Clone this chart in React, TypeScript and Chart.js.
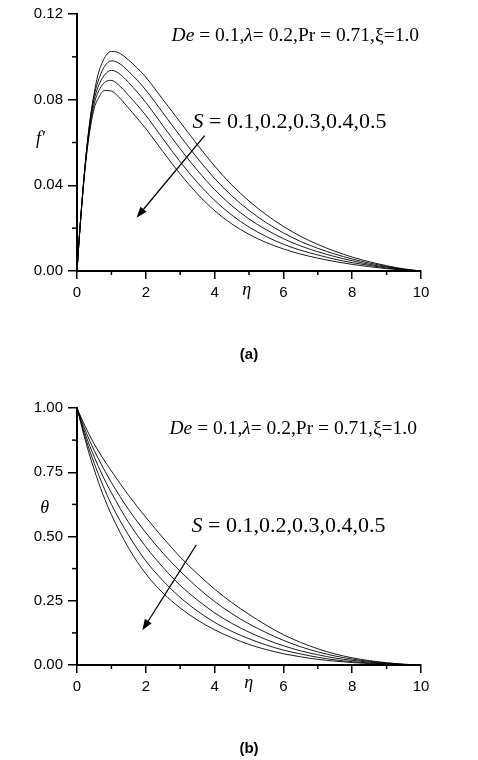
import React, { useEffect, useRef } from "react";
import { Chart, registerables } from "chart.js";

Chart.register(...registerables);

// ---------- data ----------
const ETA_F = [0, 0.05, 0.1, 0.2, 0.3, 0.4, 0.5, 0.6, 0.8, 1.0, 1.2, 1.5, 2.0, 2.5, 3.0, 3.5, 4.0, 4.5, 5.0, 5.5, 6.0, 6.5, 7.0, 7.5, 8.0, 8.5, 9.0, 9.5, 10];
const F_S01 = [0, 0.012, 0.023, 0.043, 0.060, 0.073, 0.083, 0.091, 0.0995, 0.1025, 0.1020, 0.0985, 0.0905, 0.0800, 0.0695, 0.0590, 0.0490, 0.0402, 0.0327, 0.0263, 0.0208, 0.0162, 0.0124, 0.0092, 0.0065, 0.0043, 0.0025, 0.0010, 0];
const F_S02 = [0, 0.012, 0.023, 0.043, 0.0595, 0.0725, 0.082, 0.088, 0.0955, 0.0981, 0.0972, 0.0932, 0.0845, 0.0738, 0.0630, 0.0527, 0.0432, 0.0351, 0.0283, 0.0226, 0.0178, 0.0138, 0.0106, 0.0079, 0.0056, 0.0037, 0.0021, 0.0008, 0];
const F_S03 = [0, 0.012, 0.023, 0.0428, 0.059, 0.0715, 0.080, 0.0855, 0.0915, 0.0937, 0.0925, 0.0880, 0.0787, 0.0678, 0.0570, 0.0470, 0.0380, 0.0305, 0.0243, 0.0193, 0.0151, 0.0117, 0.0090, 0.0067, 0.0048, 0.0031, 0.0018, 0.0007, 0];
const F_S04 = [0, 0.012, 0.023, 0.0425, 0.058, 0.0698, 0.078, 0.083, 0.0880, 0.0890, 0.0870, 0.0820, 0.0727, 0.0617, 0.0510, 0.0413, 0.0330, 0.0261, 0.0205, 0.0161, 0.0125, 0.0097, 0.0075, 0.0055, 0.0039, 0.0026, 0.0014, 0.0005, 0];
const F_S05 = [0, 0.012, 0.023, 0.042, 0.057, 0.068, 0.076, 0.080, 0.0843, 0.0840, 0.0815, 0.0760, 0.0665, 0.0557, 0.0453, 0.0360, 0.0282, 0.0220, 0.0171, 0.0133, 0.0103, 0.0079, 0.0060, 0.0044, 0.0031, 0.0020, 0.0011, 0.0004, 0];

const ETA_T = [0, 0.25, 0.5, 0.75, 1.0, 1.5, 2.0, 2.5, 3.0, 3.5, 4.0, 4.5, 5.0, 5.5, 6.0, 6.5, 7.0, 7.5, 8.0, 8.5, 9.0, 9.5, 10];
const T_S01 = [1, 0.925, 0.86, 0.805, 0.755, 0.66, 0.575, 0.495, 0.42, 0.355, 0.295, 0.243, 0.197, 0.155, 0.118, 0.088, 0.063, 0.043, 0.028, 0.017, 0.009, 0.003, 0];
const T_S02 = [1, 0.91, 0.835, 0.77, 0.71, 0.605, 0.515, 0.435, 0.365, 0.302, 0.247, 0.20, 0.16, 0.126, 0.096, 0.071, 0.051, 0.035, 0.023, 0.014, 0.007, 0.0025, 0];
const T_S03 = [1, 0.895, 0.81, 0.735, 0.67, 0.555, 0.46, 0.38, 0.31, 0.253, 0.203, 0.162, 0.128, 0.099, 0.075, 0.055, 0.040, 0.027, 0.018, 0.011, 0.0055, 0.002, 0];
const T_S04 = [1, 0.882, 0.785, 0.70, 0.625, 0.505, 0.405, 0.328, 0.263, 0.21, 0.166, 0.131, 0.102, 0.078, 0.058, 0.043, 0.030, 0.020, 0.013, 0.0078, 0.004, 0.0015, 0];
const T_S05 = [1, 0.87, 0.76, 0.665, 0.585, 0.455, 0.355, 0.28, 0.222, 0.175, 0.137, 0.106, 0.08, 0.06, 0.044, 0.032, 0.022, 0.015, 0.0095, 0.0055, 0.0027, 0.001, 0];

const S_LABELS = ["S = 0.1", "S = 0.2", "S = 0.3", "S = 0.4", "S = 0.5"];

const X_MAJOR_STEP = 2;
const X_MINOR = [1, 3, 5, 7, 9];
const F_RANGE = [0, 0.12];
const F_STEP = 0.04;
const F_MINOR = [0.02, 0.06, 0.10];
const T_RANGE = [0, 1];
const T_STEP = 0.25;
const T_MINOR = [0.125, 0.375, 0.625, 0.875];

// text segments: [text, italic]
const PARAM_TEXT: [string, boolean][] = [["De", true], [" = 0.1,", false], ["λ", true], ["= 0.2,Pr = 0.71,ξ=1.0", false]];
const S_TEXT: [string, boolean][] = [["S", true], [" = 0.1,0.2,0.3,0.4,0.5", false]];

type PanelCfg = {
  eta: number[];
  series: number[][];
  range: number[];
  step: number;
  yMinor: number[];
  yLabel: string;
  yLabelAt: number[];
  xLabelAt: number[];
  paramAt: number[];
  sAt: number[];
  arrow: number[]; // x1,y1,x2,y2 in data coords
  caption: string;
};

const PANEL_A: PanelCfg = {
  eta: ETA_F,
  series: [F_S01, F_S02, F_S03, F_S04, F_S05],
  range: F_RANGE,
  step: F_STEP,
  yMinor: F_MINOR,
  yLabel: "f′",
  yLabelAt: [-1.06, 0.0613],
  xLabelAt: [4.93, -0.009],
  paramAt: [2.75, 0.1073],
  sAt: [3.36, 0.0667],
  arrow: [3.71, 0.0632, 1.73, 0.0249],
  caption: "(a)",
};

const PANEL_B: PanelCfg = {
  eta: ETA_T,
  series: [T_S01, T_S02, T_S03, T_S04, T_S05],
  range: T_RANGE,
  step: T_STEP,
  yMinor: T_MINOR,
  yLabel: "θ",
  yLabelAt: [-0.94, 0.608],
  xLabelAt: [4.99, -0.073],
  paramAt: [2.69, 0.897],
  sAt: [3.33, 0.517],
  arrow: [3.47, 0.468, 1.9, 0.135],
  caption: "(b)",
};

const SERIF = "'Times New Roman', 'Liberation Serif', serif";
const SANS = "Arial, 'Liberation Sans', sans-serif";

function drawSegments(ctx: CanvasRenderingContext2D, segs: [string, boolean][], x: number, y: number, size: number) {
  let cx = x;
  ctx.textBaseline = "alphabetic";
  ctx.textAlign = "left";
  for (const [t, it] of segs) {
    ctx.font = `${it ? "italic " : ""}${size}px ${SERIF}`;
    ctx.fillText(t, cx, y);
    cx += ctx.measureText(t).width;
  }
}

function makeDecor(cfg: PanelCfg) {
  return {
    id: "decor",
    afterDraw(chart: any) {
      const { ctx, chartArea } = chart;
      const xs = chart.scales.x;
      const ys = chart.scales.y;
      const px = (v: number) => xs.getPixelForValue(v);
      const py = (v: number) => ys.getPixelForValue(v);
      ctx.save();
      ctx.strokeStyle = "#000";
      ctx.fillStyle = "#000";
      ctx.lineWidth = 1.5;
      // minor ticks
      for (const v of X_MINOR) {
        const p = px(v);
        ctx.beginPath();
        ctx.moveTo(p, chartArea.bottom);
        ctx.lineTo(p, chartArea.bottom + 4);
        ctx.stroke();
      }
      for (const v of cfg.yMinor) {
        const p = py(v);
        ctx.beginPath();
        ctx.moveTo(chartArea.left - 5, p);
        ctx.lineTo(chartArea.left, p);
        ctx.stroke();
      }
      // annotations
      drawSegments(ctx, PARAM_TEXT, px(cfg.paramAt[0]), py(cfg.paramAt[1]), 19.5);
      drawSegments(ctx, S_TEXT, px(cfg.sAt[0]), py(cfg.sAt[1]), 22);
      // arrow
      const x1 = px(cfg.arrow[0]), y1 = py(cfg.arrow[1]);
      const x2 = px(cfg.arrow[2]), y2 = py(cfg.arrow[3]);
      const ang = Math.atan2(y2 - y1, x2 - x1);
      const hl = 11, hw = 4;
      const bx = x2 - hl * Math.cos(ang), by = y2 - hl * Math.sin(ang);
      ctx.lineWidth = 1.3;
      ctx.beginPath();
      ctx.moveTo(x1, y1);
      ctx.lineTo(bx, by);
      ctx.stroke();
      ctx.beginPath();
      ctx.moveTo(x2, y2);
      ctx.lineTo(bx + hw * Math.sin(ang), by - hw * Math.cos(ang));
      ctx.lineTo(bx - hw * Math.sin(ang), by + hw * Math.cos(ang));
      ctx.closePath();
      ctx.fill();
      // axis labels
      ctx.textAlign = "center";
      ctx.textBaseline = "middle";
      ctx.font = `italic 18px ${SERIF}`;
      ctx.fillText(cfg.yLabel, px(cfg.yLabelAt[0]), py(cfg.yLabelAt[1]));
      ctx.fillText("η", px(cfg.xLabelAt[0]), py(cfg.xLabelAt[1]));
      // caption
      ctx.font = `bold 15px ${SANS}`;
      ctx.fillText(cfg.caption, (chartArea.left + chartArea.right) / 2, chartArea.bottom + 84);
      ctx.restore();
    },
  };
}

function Panel({ cfg, top }: { cfg: PanelCfg; top: number }) {
  const ref = useRef<HTMLCanvasElement>(null);
  useEffect(() => {
    if (!ref.current) return;
    const chart = new Chart(ref.current, {
      type: "line",
      data: {
        datasets: cfg.series.map((s, i) => ({
          label: S_LABELS[i],
          data: s.map((v, j) => ({ x: cfg.eta[j], y: v })),
          borderColor: "#000",
          borderWidth: 0.9,
          pointRadius: 0,
          fill: false,
          cubicInterpolationMode: "monotone" as const,
        })),
      },
      options: {
        animation: false,
        responsive: false,
        devicePixelRatio: 1,
        events: [],
        layout: { padding: { left: 0, top: 11, right: 57, bottom: 64 } },
        plugins: { legend: { display: false }, tooltip: { enabled: false }, title: { display: false } },
        scales: {
          x: {
            type: "linear",
            min: 0,
            max: 10,
            afterFit: (s: any) => { s.height = 30; },
            ticks: {
              stepSize: X_MAJOR_STEP,
              color: "#000",
              padding: 5,
              maxRotation: 0,
              font: { family: SANS, size: 15 },
            },
            grid: { display: true, drawOnChartArea: false, drawTicks: true, tickLength: 8, color: "#000", lineWidth: 1.5 },
            border: { display: true, color: "#000", width: 2 },
          },
          y: {
            type: "linear",
            min: cfg.range[0],
            max: cfg.range[1],
            afterFit: (s: any) => { s.width = 77; },
            ticks: {
              stepSize: cfg.step,
              color: "#000",
              padding: 5,
              font: { family: SANS, size: 15 },
              callback: (v: any) => Number(v).toFixed(2),
            },
            grid: { display: true, drawOnChartArea: false, drawTicks: true, tickLength: 9, color: "#000", lineWidth: 1.5 },
            border: { display: true, color: "#000", width: 2 },
          },
        },
      },
      plugins: [makeDecor(cfg)],
    } as any);
    return () => chart.destroy();
  }, [cfg]);
  return (
    <canvas
      ref={ref}
      width={478}
      height={365}
      style={{ position: "absolute", left: 0, top, width: 478, height: 365 }}
    />
  );
}

export default function App() {
  return (
    <div style={{ position: "absolute", left: 0, top: 0, width: 478, height: 760, background: "#fff" }}>
      <Panel cfg={PANEL_A} top={0} />
      <Panel cfg={PANEL_B} top={394} />
    </div>
  );
}
